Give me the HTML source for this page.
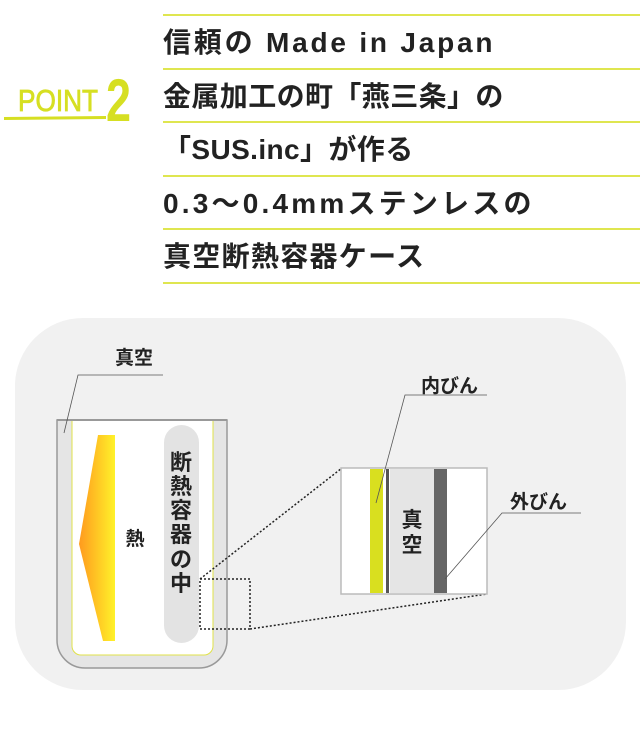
<!DOCTYPE html>
<html><head><meta charset="utf-8"><style>
body{margin:0;width:640px;height:738px;background:#fff;position:relative;overflow:hidden;font-family:"Liberation Sans","Noto Sans CJK JP",sans-serif}
.hl{position:absolute;left:163px;right:0;height:2px;background:#dfe650}
.t{position:absolute;left:163px;font-weight:bold;font-size:28px;color:#222;line-height:30px;white-space:nowrap}
</style></head><body>
<div class="hl" style="top:14px"></div>
<div class="hl" style="top:68px"></div>
<div class="hl" style="top:121px"></div>
<div class="hl" style="top:175px"></div>
<div class="hl" style="top:228px"></div>
<div class="hl" style="top:282px"></div>
<div class="t" style="top:28px;letter-spacing:2.8px">信頼の Made in Japan</div>
<div class="t" style="top:82px;letter-spacing:0.4px">金属加工の町「燕三条」の</div>
<div class="t" style="top:135px;letter-spacing:0.4px">「SUS.inc」が作る</div>
<div class="t" style="top:189px;letter-spacing:3.2px">0.3～0.4mmステンレスの</div>
<div class="t" style="top:242px;letter-spacing:1.3px">真空断熱容器ケース</div>
<svg width="640" height="738" style="position:absolute;left:0;top:0">
<defs><linearGradient id="g" x1="0" x2="1"><stop offset="0" stop-color="#ff9a1e"/><stop offset="1" stop-color="#fff22a"/></linearGradient></defs>
<text x="18" y="111" font-family="Liberation Sans,sans-serif" font-size="31" fill="#d6df22" stroke="#d6df22" stroke-width="0.8" textLength="80" lengthAdjust="spacingAndGlyphs">POINT</text>
<text x="106" y="121" font-family="Liberation Sans,sans-serif" font-weight="bold" font-size="60" fill="#d6df22" textLength="25" lengthAdjust="spacingAndGlyphs">2</text>
<polygon points="4,117 106,116 106,119 4,120" fill="#d6df22"/>
<rect x="15" y="318" width="611" height="372" rx="68" fill="#f1f1f1"/>
<path d="M57,420 V640 a28,28 0 0 0 28,28 H199 a28,28 0 0 0 28,-28 V420 Z" fill="#e5e5e5" stroke="#999" stroke-width="1.5"/>
<path d="M72,420 V646 a9,9 0 0 0 9,9 H204 a9,9 0 0 0 9,-9 V420 Z" fill="#fff" stroke="#e0e24a" stroke-width="1"/>
<rect x="57" y="419" width="170" height="2" fill="#999"/>
<rect x="73" y="421" width="139" height="3" fill="#fff"/>
<polygon points="98,435 115,435 115,641 103,641 79,544" fill="url(#g)"/>
<rect x="164" y="425" width="35" height="218" rx="17.5" fill="#e3e3e3"/>
<text x="135" y="545" font-size="19" font-weight="bold" fill="#222" text-anchor="middle">熱</text>
<g font-size="22" font-weight="bold" fill="#222" text-anchor="middle">
<text x="181" y="470">断</text><text x="181" y="494">熱</text><text x="181" y="518">容</text><text x="181" y="542">器</text><text x="181" y="567">の</text><text x="181" y="591">中</text>
</g>
<text x="115" y="364" font-size="19" font-weight="bold" fill="#222">真空</text>
<polyline points="163,375 78,375 64,433" fill="none" stroke="#555" stroke-width="0.8"/>
<rect x="200" y="579" width="50" height="50" fill="none" stroke="#222" stroke-width="1.5" stroke-dasharray="2,2"/>
<line x1="200" y1="579" x2="342" y2="468" stroke="#222" stroke-width="1.5" stroke-dasharray="2,2"/>
<line x1="250" y1="629" x2="487" y2="594" stroke="#222" stroke-width="1.5" stroke-dasharray="2,2"/>
<rect x="341" y="468" width="146" height="126" fill="#fff" stroke="#bbb" stroke-width="1.5"/>
<rect x="370" y="469" width="13" height="124" fill="#d9df1f"/>
<rect x="386" y="469" width="3" height="124" fill="#555"/>
<rect x="390" y="469" width="44" height="124" fill="#e5e5e5"/>
<rect x="434" y="469" width="13" height="124" fill="#666"/>
<text x="412" y="527" font-size="21" font-weight="bold" fill="#222" text-anchor="middle">真</text>
<text x="412" y="552" font-size="21" font-weight="bold" fill="#222" text-anchor="middle">空</text>
<text x="421" y="392" font-size="19" font-weight="bold" fill="#222">内びん</text>
<polyline points="487,395 405,395 376,503" fill="none" stroke="#555" stroke-width="0.8"/>
<text x="510" y="508" font-size="19" font-weight="bold" fill="#222">外びん</text>
<polyline points="581,513 502,513 445,579" fill="none" stroke="#555" stroke-width="0.8"/>
</svg>
</body></html>
